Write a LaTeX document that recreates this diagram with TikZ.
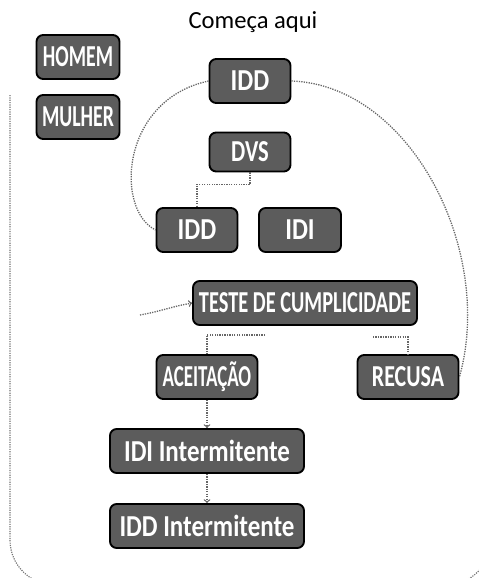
\documentclass[tikz,border=0pt]{standalone}
\usepackage{fontspec}
\setmainfont{Carlito}
\usetikzlibrary{calc}

\begin{document}
\begin{tikzpicture}[x=0.03cm, y=-0.03cm,
    caixa/.style={draw=black, line width=1.6pt, fill=black!64, rounded corners=0.2cm,
                  text=white, font=\fontsize{26}{26}\selectfont\bfseries,
                  inner sep=0pt, minimum height=44*0.03cm},
    ligacao/.style={black!60, densely dotted, line width=1.1pt},
    moldura/.style={black!55, densely dotted, line width=1pt, rounded corners=45*0.03cm}]
                \clip (0,0) rectangle (479,578);
                
                % Title
                \node (titulo) at (253,22) {\fontsize{21}{21}\selectfont Começa aqui};
                
                % Legend boxes
                \node[caixa, minimum width=83*0.03cm] (homem) at (78,57) {\scalebox{0.65}[1]{HOMEM}};
                \node[caixa, minimum width=83*0.03cm] (mulher) at (78,117) {\scalebox{0.65}[1]{MULHER}};
                
                % Flow boxes
                \node[caixa, minimum width=81*0.03cm] (iddA) at (250,81) {\scalebox{0.83}[1]{IDD}};
                \node[caixa, minimum width=81*0.03cm, minimum height=39*0.03cm] (dvs) at (250,152) {\scalebox{0.74}[1]{DVS}};
                \node[caixa, minimum width=81*0.03cm] (iddB) at (197,230) {\scalebox{0.83}[1]{IDD}};
                \node[caixa, minimum width=82*0.03cm] (idi) at (300,230) {\scalebox{0.83}[1]{IDI}};
                \node[caixa, minimum width=224*0.03cm] (teste) at (305,303) {\scalebox{0.67}[1]{TESTE DE CUMPLICIDADE}};
                \node[caixa, minimum width=101*0.03cm] (aceita) at (207,377) {\scalebox{0.62}[1]{ACEITAÇÃO}};
                \node[caixa, minimum width=101*0.03cm] (recusa) at (408,377) {\scalebox{0.72}[1]{RECUSA}};
                \node[caixa, minimum width=194*0.03cm] (idiInt) at (207,451) {\scalebox{0.82}[1]{IDI Intermitente}};
                \node[caixa, minimum width=194*0.03cm] (iddInt) at (207,526) {\scalebox{0.82}[1]{IDD Intermitente}};
                
                % Outer frame
                \draw[moldura] (10,95) -- (10,585) -- (491,585) -- (491,500);
                
                % Connectors
                \draw[ligacao] (iddA.west) .. controls (120,100) and (115,210) .. (iddB.west);
                \draw[ligacao] (iddA.east) .. controls (410,85) and (495,250) .. (recusa.east);
                \draw[ligacao] (dvs.south) -- ++(0,12) -| (iddB.north);
                \coordinate (entrada) at (140,315);
                \draw[ligacao, ->] (entrada) to[out=10, in=190] (teste.west);
                \draw[ligacao] ($(teste.south)+(-40,9)$) -| (aceita.north);
                \draw[ligacao] ($(teste.south)+(68,11)$) -| (recusa.north);
                \draw[ligacao, ->] (aceita.south) -- (idiInt.north);
                \draw[ligacao, ->] (idiInt.south) -- (iddInt.north);
\end{tikzpicture}
\end{document}
